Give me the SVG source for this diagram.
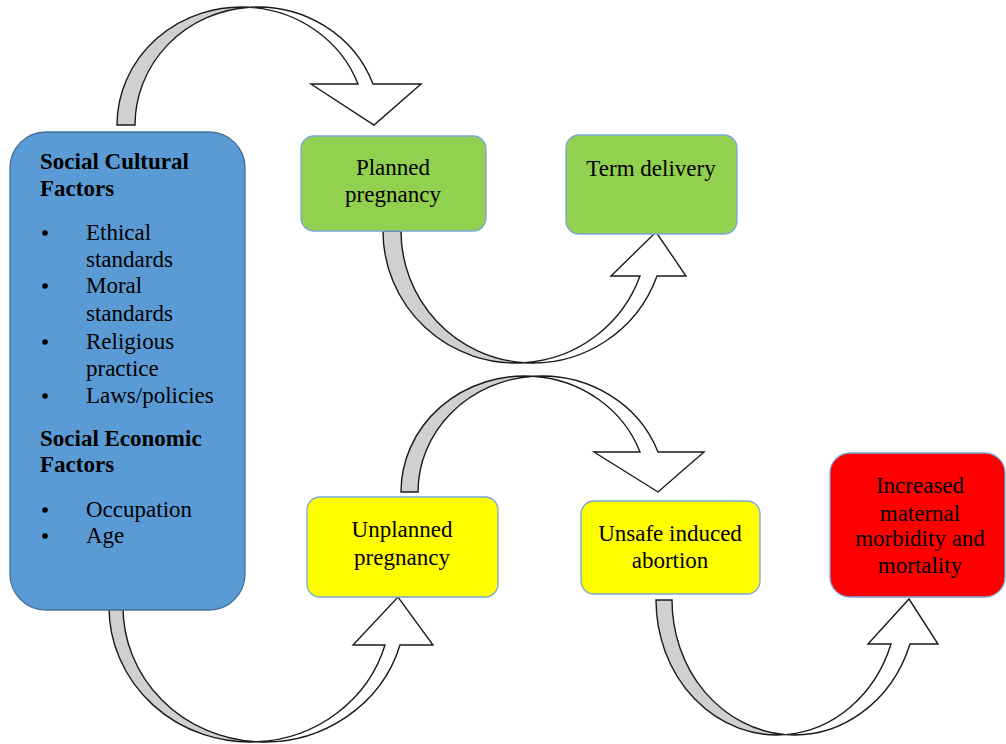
<svg xmlns="http://www.w3.org/2000/svg" width="1006" height="744" viewBox="0 0 1006 744">
<style>
.t{font-family:"Liberation Serif","Times New Roman",serif;font-size:23px;fill:#000}
.b{font-weight:bold}
.c{text-anchor:middle}
.dot{fill:#000}
.back{fill:#d0d0d0;stroke:#1a1a1a;stroke-width:1.4;stroke-linejoin:miter}
.front{fill:#fff;stroke:#1a1a1a;stroke-width:1.4;stroke-linejoin:miter}
.box{stroke:#7aa7d9;stroke-width:1.3}
</style>
<rect width="1006" height="744" fill="#fff"/>
<g id="connectors">
  <g id="arrow-social-planned">
    <path class="back" d="M117,125 A124.4,118 0 0 1 249.65,7.26 A122.8,118 0 0 0 135,125 Z"/>
    <path class="front" d="M249.65,7.26 A122.8,118 0 0 1 373,84 L421,84 L374,125 L311,84 L358,84 A124.4,118 0 0 0 249.65,7.26 Z"/>
  </g>
  <g id="arrow-planned-term">
    <path class="back" d="M383,231 A132.5,132 0 0 0 524.24,362.7 A131.95,132 0 0 1 401,231 Z"/>
    <path class="front" d="M524.24,362.7 A131.95,132 0 0 0 657,276 L686,276 L656,232 L611,276 L640,276 A132.5,132 0 0 1 524.24,362.7 Z"/>
  </g>
  <g id="arrow-unplanned-unsafe">
    <path class="back" d="M401,492 A123.3,116 0 0 1 533,376.3 A123.8,116 0 0 0 418,492 Z"/>
    <path class="front" d="M533,376.3 A123.8,116 0 0 1 658,452 L704,452 L658,492 L594,452 L640,452 A123.3,116 0 0 0 533,376.3 Z"/>
  </g>
  <g id="arrow-social-unplanned">
    <path class="back" d="M109,607 A140.8,135 0 0 0 257.06,741.8 A141.35,135 0 0 1 123,607 Z"/>
    <path class="front" d="M257.06,741.8 A141.35,135 0 0 0 400,645 L433,645 L398,597 L353,645 L385,645 A140.8,135 0 0 1 257.06,741.8 Z"/>
  </g>
  <g id="arrow-unsafe-increased">
    <path class="back" d="M656,600 A120.8,135 0 0 0 785.5,734.6 A122.34,135 0 0 1 672,600 Z"/>
    <path class="front" d="M785.5,734.6 A122.34,135 0 0 0 910,644 L938,644 L909,599 L868,644 L891,644 A120.8,135 0 0 1 785.5,734.6 Z"/>
  </g>
</g>
<g id="social-factors">
  <rect x="10" y="132" width="235" height="478" rx="36" ry="36" fill="#5b9bd5" stroke="#41719c" stroke-width="1.3"/>
  <text class="t b" x="40" y="169">Social Cultural</text>
  <text class="t b" x="40" y="196">Factors</text>
  <circle class="dot" cx="45" cy="233" r="2.8"/>
  <text class="t" x="86" y="240">Ethical</text>
  <text class="t" x="86" y="267">standards</text>
  <circle class="dot" cx="45" cy="286" r="2.8"/>
  <text class="t" x="86" y="293">Moral</text>
  <text class="t" x="86" y="321">standards</text>
  <circle class="dot" cx="45" cy="342" r="2.8"/>
  <text class="t" x="86" y="349">Religious</text>
  <text class="t" x="86" y="376">practice</text>
  <circle class="dot" cx="45" cy="396" r="2.8"/>
  <text class="t" x="86" y="403">Laws/policies</text>
  <text class="t b" x="40" y="446">Social Economic</text>
  <text class="t b" x="40" y="472">Factors</text>
  <circle class="dot" cx="45" cy="510" r="2.8"/>
  <text class="t" x="86" y="517">Occupation</text>
  <circle class="dot" cx="45" cy="536" r="2.8"/>
  <text class="t" x="86" y="543">Age</text>
</g>
<g id="planned-pregnancy">
  <rect class="box" x="301" y="136" width="185" height="95" rx="13" fill="#92d050"/>
  <text class="t c" x="393" y="175">Planned</text>
  <text class="t c" x="393" y="202">pregnancy</text>
</g>
<g id="term-delivery">
  <rect class="box" x="566" y="135" width="171" height="99" rx="13" fill="#92d050"/>
  <text class="t c" x="651" y="176">Term delivery</text>
</g>
<g id="unplanned-pregnancy">
  <rect class="box" x="307" y="497" width="191" height="100" rx="13" fill="#ffff00"/>
  <text class="t c" x="402" y="537">Unplanned</text>
  <text class="t c" x="402" y="565">pregnancy</text>
</g>
<g id="unsafe-abortion">
  <rect class="box" x="581" y="501" width="179" height="93" rx="13" fill="#ffff00"/>
  <text class="t c" x="670" y="541">Unsafe induced</text>
  <text class="t c" x="670" y="568">abortion</text>
</g>
<g id="increased-morbidity">
  <rect class="box" x="830" y="453" width="175" height="144" rx="20" fill="#ff0000"/>
  <text class="t c" x="920" y="493">Increased</text>
  <text class="t c" x="920" y="521">maternal</text>
  <text class="t c" x="920" y="546">morbidity and</text>
  <text class="t c" x="920" y="573">mortality</text>
</g>
</svg>
